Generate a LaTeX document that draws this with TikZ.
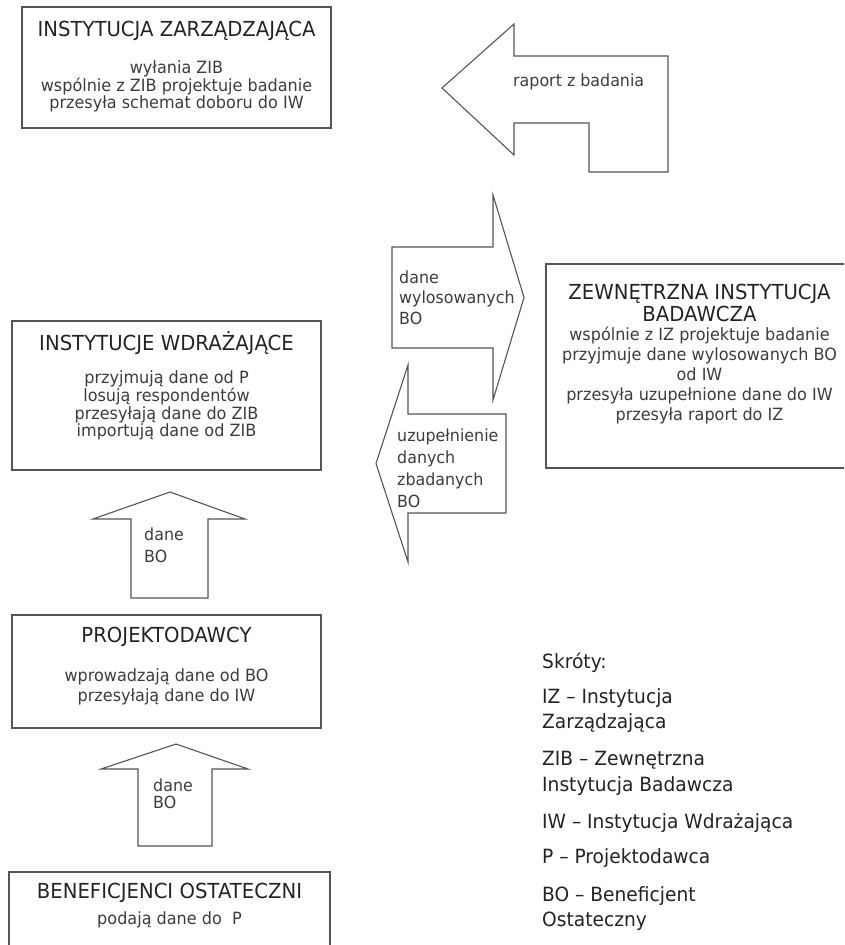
\documentclass[tikz,border=0pt]{standalone}
\usepackage{fontspec}
\setmainfont{DejaVu Sans}[FakeStretch=0.95]
\usetikzlibrary{positioning}
\definecolor{framegray}{RGB}{85,85,85}
\definecolor{titlegray}{RGB}{35,35,35}
\definecolor{bodygray}{RGB}{60,60,60}

\begin{document}
\begin{tikzpicture}[
    x=1pt, y=-1pt,
    frame/.style={draw=framegray, line width=1.1pt, line join=miter},
    title/.style={text=titlegray, inner sep=0pt, align=center,
        font=\fontsize{20.7}{22}\selectfont},
    body/.style={text=bodygray, inner sep=0pt, align=center,
        font=\fontsize{16.9}{#1}\selectfont},
    flow/.style={text=bodygray, inner sep=0pt, align=left, anchor=west,
        font=\fontsize{16.7}{#1}\selectfont},
    abbr/.style={text=titlegray, inner sep=0pt, align=left, anchor=west,
        font=\fontsize{19.6}{25.5}\selectfont}]

    \useasboundingbox (0,0) rectangle (844,945);
    \clip (0,0) rectangle (844,945);

    % instytucja zarzadzajaca
    \draw[frame] (22,7) rectangle (331,128);
    \node[title] (iztitle) at (176.5,31) {INSTYTUCJA ZARZĄDZAJĄCA};
    \node[body=16.8] (iztext) at (176.5,86.5)
        {wyłania ZIB\\wspólnie z ZIB projektuje badanie\\przesyła schemat doboru do IW};

    % zewnetrzna instytucja badawcza
    \draw[frame] (546,264) rectangle (853,468);
    \node[title] (zibtitle) at (699.5,303) {ZEWNĘTRZNA INSTYTUCJA\\BADAWCZA};
    \node[body=20] (zibtext) at (699.5,375)
        {wspólnie z IZ projektuje badanie\\przyjmuje dane wylosowanych BO\\od IW\\przesyła uzupełnione dane do IW\\przesyła raport do IZ};

    % instytucje wdrazajace
    \draw[frame] (12,321) rectangle (321,470);
    \node[title] (iwtitle) at (166.5,343) {INSTYTUCJE WDRAŻAJĄCE};
    \node[body=17.7] (iwtext) at (166.5,405.5)
        {przyjmują dane od P\\losują respondentów\\przesyłają dane do ZIB\\importują dane od ZIB};

    % projektodawcy
    \draw[frame] (12,615) rectangle (321,728);
    \node[title] (ptitle) at (166.5,637) {PROJEKTODAWCY};
    \node[body=20] (ptext) at (166.5,687)
        {wprowadzają dane od BO\\przesyłają dane do IW};

    % beneficjenci ostateczni
    \draw[frame] (9,872) rectangle (330,960);
    \node[title] (botitle) at (169.5,893) {BENEFICJENCI OSTATECZNI};
    \node[body=20] (botext) at (169.5,920) {podają dane do\ \ P};

    % arrows
    \draw[frame] (442,88) -- (514,24) -- (514,56) -- (668,56) -- (668,172)
        -- (589,172) -- (589,123) -- (514,123) -- (514,155) -- cycle;
    \node[flow=18] (raport) at (513,82) {raport z badania};

    \draw[frame] (392,247) -- (493,247) -- (493,195) -- (524,297.5)
        -- (493,400) -- (493,348) -- (392,348) -- cycle;
    \node[flow=20.5] (wylos) at (399,297.5) {dane\\wylosowanych\\BO};

    \draw[frame] (506,414) -- (408,414) -- (408,365) -- (376,463.5)
        -- (408,562) -- (408,513) -- (506,513) -- cycle;
    \node[flow=22] (uzup) at (397,468) {uzupełnienie\\danych\\zbadanych\\BO};

    \draw[frame] (170,492) -- (245,519) -- (208,519) -- (208,598)
        -- (131,598) -- (131,519) -- (93,519) -- cycle;
    \node[flow=22] (daneiw) at (144,545) {dane\\BO};

    \draw[frame] (176,744) -- (248,769) -- (212,769) -- (212,846)
        -- (138,846) -- (138,769) -- (101,769) -- cycle;
    \node[flow=17] (danep) at (153,793.5) {dane\\BO};

    % skroty
    \node[abbr] (skroty) at (542,663) {Skróty:};
    \node[abbr] (abiz) at (542,710.5) {IZ – Instytucja\\Zarządzająca};
    \node[abbr] (abzib) at (542,773.5) {ZIB – Zewnętrzna\\Instytucja Badawcza};
    \node[abbr] (abiw) at (542,823) {IW – Instytucja Wdrażająca};
    \node[abbr] (abp) at (542,858) {P – Projektodawca};
    \node[abbr] (abbo) at (542,908.5) {BO – Beneficjent\\Ostateczny};

\end{tikzpicture}
\end{document}
